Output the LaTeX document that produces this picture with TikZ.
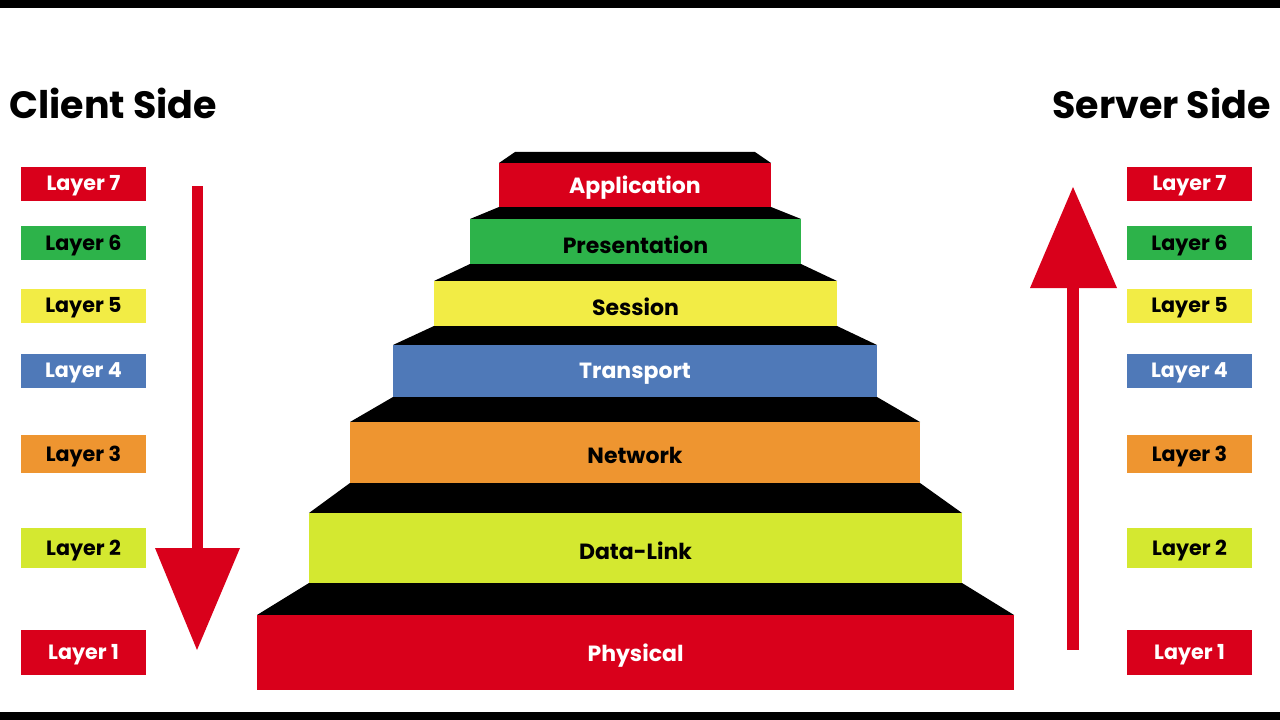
\documentclass[tikz,border=0pt]{standalone}
\usepackage{fontspec}
\setmainfont{Poppins}[BoldFont={* Bold}]
\definecolor{cred}{HTML}{D9001B}
\definecolor{cgreen}{HTML}{2DB34A}
\definecolor{cyellow}{HTML}{F2EC45}
\definecolor{cblue}{HTML}{4F79B8}
\definecolor{corange}{HTML}{EE9530}
\definecolor{clime}{HTML}{D4E830}
\begin{document}
\begin{tikzpicture}[x=0.75pt,y=-0.75pt,
  lbox/.style={minimum width=94pt,inner sep=0pt,font=\bfseries\fontsize{15.5}{16}\selectfont},
  title/.style={font=\bfseries\fontsize{28.5}{30}\selectfont,inner sep=0pt},
  steplbl/.style={font=\bfseries\fontsize{16.5}{18}\selectfont,inner sep=0pt}]
\useasboundingbox (0,0) rectangle (1280,720);
\fill[white] (0,0) rectangle (1280,720);
\fill[black] (0,0) rectangle (1280,8);
\fill[black] (0,712) rectangle (1280,720);
\node[title,anchor=west] (ct) at (9,103) {Client Side};
\node[title,anchor=east] (st) at (1271,103) {Server Side};
% layer boxes
\foreach \n/\ya/\yb/\c/\t in {7/167/201/cred/white,6/226/260/cgreen/black,5/289/323/cyellow/black,4/354/388/cblue/white,3/435/473/corange/black,2/528/568/clime/black,1/630/675/cred/white}{
  \node[lbox,fill=\c,text=\t,minimum height={(\yb-\ya)*0.75pt},text depth=1pt] (L\n) at (83.5,{(\ya+\yb)/2}) {Layer \n};
  \node[lbox,fill=\c,text=\t,minimum height={(\yb-\ya)*0.75pt},text depth=1pt] (R\n) at (1189.5,{(\ya+\yb)/2}) {Layer \n};
}
% arrows
\fill[cred] (192,186) rectangle (203,560);
\fill[cred] (155,548) -- (240,548) -- (197,650) -- cycle;
\fill[cred] (1067,650) rectangle (1079,270);
\fill[cred] (1030,288) -- (1117,288) -- (1073,187) -- cycle;
% pyramid
\fill[black] (515,152) -- (755,152) -- (771,163) -- (499,163) -- cycle;
\foreach \ta/\tb/\ty/\ba/\bb/\by/\ey/\c/\t/\lab/\nm in {
  499/771/207/470/801/219/264/cgreen/black/Presentation/pres,
  470/801/264/434/837/281/326/cyellow/black/Session/sess,
  434/837/326/393/877/345/397/cblue/white/Transport/trans,
  393/877/397/350/920/422/483/corange/black/Network/net,
  350/920/483/309/962/513/583/clime/black/Data-Link/dl,
  309/962/583/257/1014/615/690/cred/white/Physical/phy}{
  \fill[black] (\ta,\ty) -- (\tb,\ty) -- (\bb,\by) -- (\ba,\by) -- cycle;
  \fill[\c] (\ba,\by) rectangle (\bb,\ey);
  \node[steplbl,text=\t] (\nm) at ({(\ba+\bb)/2},{(\by+\ey)/2+3}) {\lab};
}
\fill[cred] (499,163) rectangle (771,207);
\node[steplbl,text=white] (app) at (635,188) {Application};
\end{tikzpicture}
\end{document}
